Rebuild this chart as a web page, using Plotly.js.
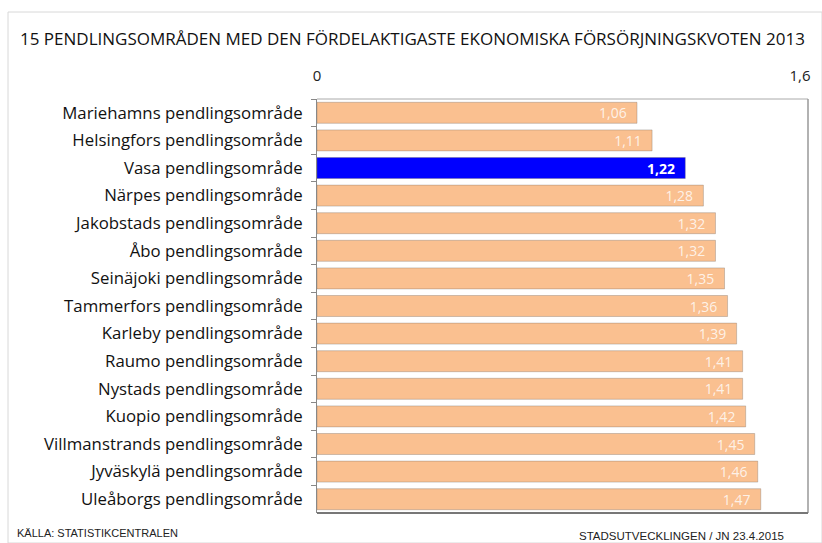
<!DOCTYPE html>
<html><head><meta charset="utf-8">
<script src="https://cdn.plot.ly/plotly-3.0.1.min.js"></script>
<style>html,body{margin:0;padding:0;background:#fff;}#chart{width:822px;height:543px;}</style>
</head><body><div id="chart"></div>
<script>
const categories = [
  "Mariehamns pendlingsområde",
  "Helsingfors pendlingsområde",
  "Vasa pendlingsområde",
  "Närpes pendlingsområde",
  "Jakobstads pendlingsområde",
  "Åbo pendlingsområde",
  "Seinäjoki pendlingsområde",
  "Tammerfors pendlingsområde",
  "Karleby pendlingsområde",
  "Raumo pendlingsområde",
  "Nystads pendlingsområde",
  "Kuopio pendlingsområde",
  "Villmanstrands pendlingsområde",
  "Jyväskylä pendlingsområde",
  "Uleåborgs pendlingsområde"
];
const values = [1.06, 1.11, 1.22, 1.28, 1.32, 1.32, 1.35, 1.36, 1.39, 1.41, 1.41, 1.42, 1.45, 1.46, 1.47];
const highlight = "Vasa pendlingsområde";
const xTickVals = [0, 1.6];
const xTickText = ["0", "1,6"];

const fmt = v => v.toFixed(2).replace(".", ",");
const colors = categories.map(c => c === highlight ? "#0000FF" : "#FAC090");
const labels = values.map((v, i) => (categories[i] === highlight ? "<b>" + fmt(v) + "</b>" : fmt(v)) + "\u00a0\u00a0");
const labelFonts = categories.map(c => c === highlight ? "#FFFFFF" : "rgba(255,255,255,0.8)");

const L = 317, R = 800, T = 99, B = 513, W = 822, H = 543;
const px = x => (x - L) / (R - L);
const py = y => (B - y) / (B - T);

const trace = {
  type: "bar", orientation: "h",
  y: categories, x: values,
  marker: {color: colors, line: {color: "rgba(120,110,100,0.35)", width: 1}},
  width: 0.76,
  text: labels, textposition: "inside", insidetextanchor: "end", constraintext: "none",
  textfont: {family: "Open Sans, sans-serif", size: 14, color: labelFonts},
  hoverinfo: "skip", cliponaxis: false
};

const layout = {
  width: W, height: H,
  margin: {l: L, r: W - R, t: T, b: H - B},
  paper_bgcolor: "#fff", plot_bgcolor: "#fff",
  showlegend: false,
  xaxis: {
    side: "top", range: [0, 1.6], tickvals: xTickVals, ticktext: xTickText,
    showgrid: false, zeroline: false, showline: false, ticks: "",
    ticklabelstandoff: 14,
    tickfont: {family: "Open Sans, sans-serif", size: 15, color: "#222"},
    fixedrange: true
  },
  yaxis: {
    type: "category", autorange: "reversed",
    showgrid: false, zeroline: false,
    showline: true, linecolor: "#888", linewidth: 1,
    ticks: "outside", tickson: "boundaries", ticklen: 5, tickcolor: "#888",
    ticklabelstandoff: 10,
    tickfont: {family: "Open Sans, sans-serif", size: 16.8, color: "#111"},
    fixedrange: true
  },
  shapes: [
    {type: "rect", xref: "paper", yref: "paper", x0: px(8), x1: px(822), y0: py(543), y1: py(12),
     line: {color: "#d8d8d8", width: 1}, fillcolor: "rgba(0,0,0,0)", layer: "below"},
    {type: "line", xref: "paper", yref: "paper", x0: 0, x1: px(808), y0: 1, y1: 1,
     line: {color: "#aaa", width: 1}},
    {type: "line", xref: "paper", yref: "paper", x0: px(808), x1: px(808), y0: 0, y1: 1,
     line: {color: "#999", width: 1.5}},
    {type: "line", xref: "paper", yref: "paper", x0: 0, x1: px(808), y0: 0, y1: 0,
     line: {color: "#777", width: 2}}
  ],
  annotations: [
    {text: "15 PENDLINGSOMRÅDEN MED DEN FÖRDELAKTIGASTE EKONOMISKA FÖRSÖRJNINGSKVOTEN 2013",
     xref: "paper", yref: "paper", x: px(18), y: py(38), xanchor: "left", yanchor: "middle",
     showarrow: false, font: {family: "Open Sans, sans-serif", size: 17, color: "#111"}},
    {text: "KÄLLA: STATISTIKCENTRALEN", xref: "paper", yref: "paper", x: px(15), y: py(533),
     xanchor: "left", yanchor: "middle", showarrow: false,
     font: {family: "Liberation Sans Narrow, Liberation Sans, sans-serif", size: 11, color: "#222"}},
    {text: "STADSUTVECKLINGEN / JN 23.4.2015", xref: "paper", yref: "paper", x: px(786), y: py(536),
     xanchor: "right", yanchor: "middle", showarrow: false,
     font: {family: "Liberation Sans Narrow, Liberation Sans, sans-serif", size: 11.5, color: "#222"}}
  ]
};

Plotly.newPlot("chart", [trace], layout, {staticPlot: true, displayModeBar: false});
</script></body></html>
